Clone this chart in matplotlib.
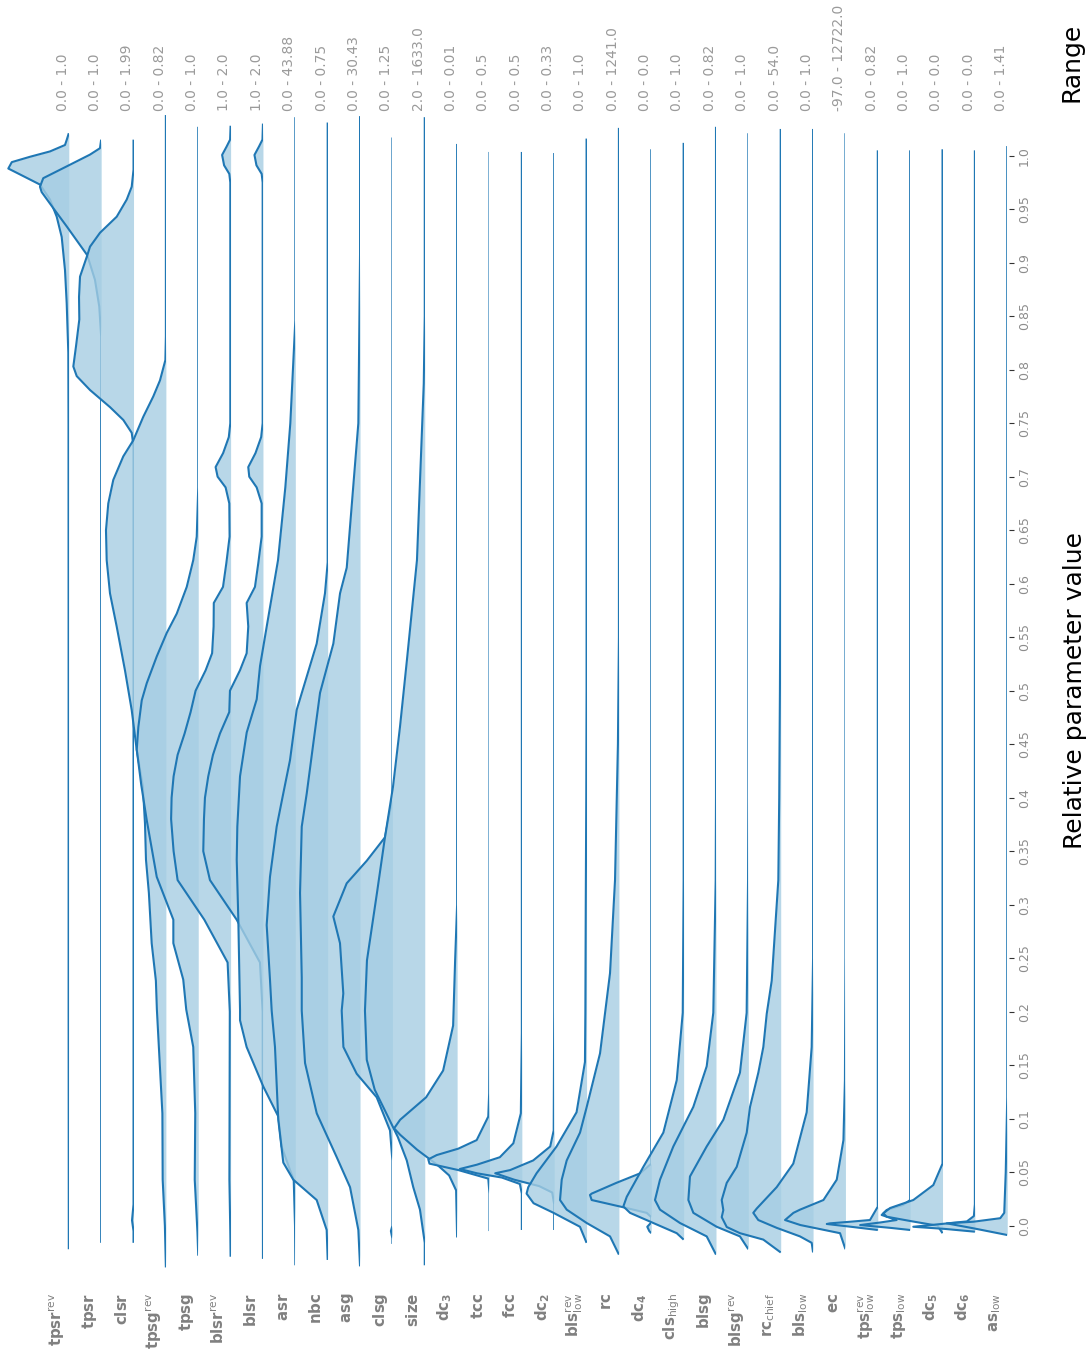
import numpy as np
import matplotlib
matplotlib.use("Agg")
import matplotlib.pyplot as plt
from matplotlib.patches import Rectangle

# ---- row labels and raw parameter ranges (top to bottom in the ridge stack) ----
labels = [
    r"$\mathbf{tpsr}^{\mathrm{rev}}$", r"$\mathbf{tpsr}$", r"$\mathbf{clsr}$",
    r"$\mathbf{tpsg}^{\mathrm{rev}}$", r"$\mathbf{tpsg}$", r"$\mathbf{blsr}^{\mathrm{rev}}$",
    r"$\mathbf{blsr}$", r"$\mathbf{asr}$", r"$\mathbf{nbc}$", r"$\mathbf{asg}$",
    r"$\mathbf{clsg}$", r"$\mathbf{size}$", r"$\mathbf{dc}_\mathbf{3}$", r"$\mathbf{tcc}$",
    r"$\mathbf{fcc}$", r"$\mathbf{dc}_\mathbf{2}$", r"$\mathbf{bls}^{\mathrm{rev}}_{\mathrm{low}}$",
    r"$\mathbf{rc}$", r"$\mathbf{dc}_\mathbf{4}$", r"$\mathbf{cls}_{\mathrm{high}}$",
    r"$\mathbf{blsg}$", r"$\mathbf{blsg}^{\mathrm{rev}}$", r"$\mathbf{rc}_{\mathrm{chief}}$",
    r"$\mathbf{bls}_{\mathrm{low}}$", r"$\mathbf{ec}$", r"$\mathbf{tps}^{\mathrm{rev}}_{\mathrm{low}}$",
    r"$\mathbf{tps}_{\mathrm{low}}$", r"$\mathbf{dc}_\mathbf{5}$", r"$\mathbf{dc}_\mathbf{6}$",
    r"$\mathbf{as}_{\mathrm{low}}$",
]
ranges = [
    "0.0 - 1.0", "0.0 - 1.0", "0.0 - 1.99", "0.0 - 0.82", "0.0 - 1.0", "1.0 - 2.0",
    "1.0 - 2.0", "0.0 - 43.88", "0.0 - 0.75", "0.0 - 30.43", "0.0 - 1.25", "2.0 - 1633.0",
    "0.0 - 0.01", "0.0 - 0.5", "0.0 - 0.5", "0.0 - 0.33", "0.0 - 1.0", "0.0 - 1241.0",
    "0.0 - 0.0", "0.0 - 1.0", "0.0 - 0.82", "0.0 - 1.0", "0.0 - 54.0", "0.0 - 1.0",
    "-97.0 - 12722.0", "0.0 - 0.82", "0.0 - 1.0", "0.0 - 0.0", "0.0 - 0.0", "0.0 - 1.41",
]
tick_values = [0.0, 0.05, 0.1, 0.15, 0.2, 0.25, 0.3, 0.35, 0.4, 0.45, 0.5,
               0.55, 0.6, 0.65, 0.7, 0.75, 0.8, 0.85, 0.9, 0.95, 1.0]
tick_labels = ["0.0", "0.05", "0.1", "0.15", "0.2", "0.25", "0.3", "0.35", "0.4", "0.45", "0.5",
               "0.55", "0.6", "0.65", "0.7", "0.75", "0.8", "0.85", "0.9", "0.95", "1.0"]

# ---- KDE profiles: relative parameter value and density (arbitrary units) ----
tpsr_rev_v = [1.021, 1.015, 1.010, 1.004, 0.999, 0.994, 0.988, 0.984, 0.973, 0.959, 0.943, 0.924, 0.893, 0.862, 0.816, 0.75, 0.5, 0.2, -0.022]
tpsr_rev_d = [0, 2, 3.8, 18.8, 38.8, 57, 60.5, 52, 28.8, 18.8, 12.1, 7.1, 3.8, 2.1, 0.5, 0.3, 0.2, 0.2, 0]

tpsr_v = [1.015, 1.007, 1.001, 0.990, 0.979, 0.971, 0.966, 0.951, 0.934, 0.907, 0.884, 0.859, 0.831, 0.6, 0.3, -0.016]
tpsr_d = [0, 1.2, 11.2, 34.5, 57.9, 61.2, 59.5, 47.9, 34.5, 13.9, 6.2, 1.9, 0, 0, 0, 0]

clsr_v = [1.015, 0.987, 0.971, 0.959, 0.943, 0.928, 0.915, 0.907, 0.887, 0.868, 0.847, 0.822, 0.803, 0.794, 0.781, 0.765, 0.753, 0.741, 0.728, 0.4, 0.02, 0.005, -0.005, -0.016]
clsr_d = [0, 0, 1.8, 6.8, 16.8, 33.5, 43.5, 46.2, 53.5, 54.5, 54.2, 57.5, 60.2, 56.8, 43.5, 23.5, 10.2, 1.8, 0, 0, 0, 1.5, 0, 0]

tpsg_rev_v = [1.038, 0.831, 0.809, 0.790, 0.775, 0.756, 0.734, 0.719, 0.697, 0.675, 0.650, 0.622, 0.591, 0.560, 0.519, 0.482, 0.445, 0.41, 0.376, 0.342, 0.311, 0.264, 0.229, 0.202, 0.105, 0.043, 0.0, -0.039]
tpsg_rev_d = [0, 0, 0.5, 5.9, 12.6, 22.6, 32.6, 42.6, 52.6, 57.6, 59.9, 59.2, 55.9, 49.2, 40.9, 34.2, 29.2, 23, 20.9, 19.9, 17, 14.2, 10, 9, 3.5, 3.2, 1, 0]

tpsg_v = [1.027, 0.69, 0.644, 0.622, 0.597, 0.572, 0.554, 0.532, 0.507, 0.491, 0.466, 0.445, 0.412, 0.379, 0.326, 0.286, 0.264, 0.230, 0.202, 0.167, 0.105, 0.043, -0.006, -0.028]
tpsg_d = [0, 0, 1.5, 5, 11.5, 21.5, 31.5, 41.5, 51.5, 56.5, 59.9, 61.5, 57, 51.5, 41.5, 24.9, 24.9, 15, 12, 5, 3, 3.5, 0.8, 0]

blsr_rev_v = [1.028, 1.015, 1.0085, 1.0007, 0.991, 0.983, 0.975, 0.75, 0.737, 0.722, 0.709, 0.700, 0.690, 0.675, 0.644, 0.619, 0.597, 0.582, 0.560, 0.535, 0.519, 0.500, 0.480, 0.460, 0.440, 0.420, 0.400, 0.380, 0.350, 0.323, 0.286, 0.246, 0.200, 0.043, -0.006, -0.029]
blsr_rev_d = [0, 0.5, 4, 8.5, 6.5, 1.3, 0.3, 0.3, 1.8, 7.5, 15, 13, 5, 1.3, 1, 4.3, 7.6, 16.8, 17, 18.5, 25, 35, 40, 46, 53, 57, 59, 59.5, 57, 53, 26.3, 3, 0.8, 1.2, 0.3, 0]

blsr_v = [1.030, 1.015, 1.0085, 1.0007, 0.991, 0.983, 0.975, 0.75, 0.737, 0.722, 0.709, 0.700, 0.690, 0.675, 0.644, 0.619, 0.597, 0.582, 0.560, 0.535, 0.519, 0.500, 0.480, 0.460, 0.440, 0.420, 0.400, 0.380, 0.350, 0.323, 0.286, 0.246, 0.200, -0.031]
blsr_d = [0, 0.5, 4, 8.5, 6.5, 1.3, 0.3, 0.3, 1.8, 7.5, 14.7, 13.7, 6.3, 1.3, 1.3, 4.7, 8, 16.3, 14.7, 16.3, 23, 33, 33.7, 43, 50, 54.7, 58, 59, 59.7, 53, 26.3, 3, 0.3, 0]

asr_v = [1.036, 0.846, 0.75, 0.69, 0.622, 0.56, 0.523, 0.492, 0.461, 0.42, 0.373, 0.342, 0.286, 0.202, 0.192, 0.167, 0.130, 0.102, 0.074, 0.052, 0.043, 0.0, -0.037]
asr_d = [0, 0, 5, 10, 17.3, 28.6, 35.3, 38.6, 48.6, 55.3, 58, 58.6, 57, 55.3, 55.3, 48.7, 32, 17, 13.7, 5.3, 1.6, 0.3, 0]

nbc_v = [1.031, 0.62, 0.591, 0.544, 0.513, 0.482, 0.435, 0.404, 0.373, 0.326, 0.281, 0.23, 0.201, 0.167, 0.099, 0.059, 0.043, 0.024, -0.004, -0.032]
nbc_d = [0, 0, 2.7, 11, 21, 31, 37.7, 44.4, 51, 57.7, 61, 57.7, 56, 52.7, 49.4, 44.4, 34.4, 11, 1, 0]

asg_v = [1.037, 0.907, 0.75, 0.692, 0.615, 0.591, 0.544, 0.498, 0.451, 0.404, 0.373, 0.311, 0.232, 0.201, 0.152, 0.105, 0.064, 0.036, -0.004, -0.038]
asg_d = [0, 0, 1.7, 6.7, 13.3, 20, 26.7, 40, 46.7, 53.3, 58.3, 60, 58.3, 58.3, 55, 43.3, 23.3, 10, 1.7, 0]

clsg_v = [1.017, 0.4, 0.363, 0.341, 0.320, 0.289, 0.264, 0.217, 0.201, 0.167, 0.142, 0.120, 0.089, 0.061, 0.0, -0.005, -0.012, -0.017]
clsg_d = [0, 0, 7.4, 25.7, 45.7, 59.1, 52.4, 49.1, 50.7, 49, 35.7, 15.7, 2.4, 0, 0, 1.5, 0, 0]

size_v = [1.036, 0.85, 0.787, 0.622, 0.529, 0.466, 0.41, 0.363, 0.311, 0.248, 0.201, 0.155, 0.127, 0.108, 0.083, 0.061, 0.036, 0.015, -0.016, -0.037]
size_d = [0, 0, 1, 7.8, 17.8, 24.8, 31.8, 39.8, 47.8, 57.8, 59.8, 58, 50, 40, 27, 18, 11.5, 4.8, 0, 0]

dc3_v = [1.011, 0.30, 0.248, 0.187, 0.145, 0.120, 0.099, 0.091, 0.085, 0.071, 0.057, 0.047, 0.033, -0.011]
dc3_d = [0, 0, 2, 4, 14, 31, 57, 63, 57, 40, 20, 8, 1, 0]

tcc_v = [1.0035, 0.2, 0.124, 0.102, 0.080, 0.072, 0.066, 0.062, 0.058, 0.052, 0.044, 0.03, -0.005]
tcc_d = [0, 0, 0.3, 1.2, 12.8, 31.2, 52.8, 61.2, 60, 31.2, 1.2, 0, 0]

fcc_v = [1.0035, 0.18, 0.105, 0.077, 0.064, 0.057, 0.053, 0.049, 0.045, 0.039, 0.03, -0.004]
fcc_d = [0, 0, 1, 8.5, 22, 45, 62, 45, 20, 2, 0, 0]

dc2_v = [1.0025, 0.2, 0.089, 0.074, 0.061, 0.052, 0.049, 0.043, 0.037, 0.031, 0.02, -0.004]
dc2_d = [0, 0, 0.5, 4, 21, 44, 59, 40, 15, 2, 0, 0]

bls_rev_low_v = [1.016, 0.5, 0.4, 0.3, 0.2, 0.153, 0.106, 0.074, 0.049, 0.036, 0.030, 0.021, 0.012, -0.001, -0.016]
bls_rev_low_d = [0, 0, 0.3, 0.8, 1.2, 1.6, 10, 30, 50, 58.3, 60, 53, 33, 6.6, 0]

rc_v = [1.026, 0.55, 0.45, 0.323, 0.236, 0.161, 0.111, 0.087, 0.061, 0.043, 0.024, 0.015, 0.0025, -0.010, -0.027]
rc_d = [0, 0, 1, 3.9, 8.9, 18.9, 32.2, 38.9, 52.2, 57.2, 58.9, 52.2, 32.2, 8.9, 0]

dc4_v = [1.006, 0.12, 0.058, 0.049, 0.040, 0.030, 0.0287, 0.024, 0.0165, 0.012, 0.008, 0.003, -0.001, -0.005, -0.007]
dc4_d = [0, 0, 0, 11, 35, 59.6, 61.3, 59.6, 24.6, 4.6, 0, 0, 4, 2, 0]

cls_high_v = [1.012, 0.323, 0.199, 0.136, 0.087, 0.055, 0.027, 0.018, 0.012, 0.0025, -0.007, -0.013]
cls_high_d = [0, 0, 0.9, 6.9, 20.3, 40.3, 56.9, 60.3, 53.6, 30.3, 6.9, 0]

blsg_v = [1.027, 0.4, 0.323, 0.199, 0.149, 0.111, 0.074, 0.043, 0.024, 0.015, 0.0025, -0.010, -0.027]
blsg_d = [0, 0, 0.3, 2.7, 9.3, 22.7, 42.7, 56, 61, 56, 36, 9.3, 0]

blsg_rev_v = [1.021, 0.4, 0.323, 0.199, 0.143, 0.099, 0.074, 0.046, 0.024, 0.012, -0.001, -0.010, -0.022]
blsg_rev_d = [0, 0, 0.3, 1.7, 8.4, 25, 41.7, 58.4, 60, 55, 31.7, 8.4, 0]

rc_chief_v = [1.025, 0.6, 0.5, 0.4, 0.323, 0.276, 0.229, 0.198, 0.167, 0.143, 0.111, 0.087, 0.055, 0.040, 0.024, 0.0146, 0.008, -0.0012, -0.007, -0.013, -0.025]
rc_chief_d = [0, 0.3, 0.8, 1.5, 2.4, 5.7, 9, 14, 17.4, 22.4, 30.7, 34, 44, 54, 59, 57.4, 59, 54, 40.7, 17.4, 0]

bls_low_v = [1.025, 0.25, 0.167, 0.106, 0.058, 0.036, 0.016, 0.012, 0.0053, -0.002, -0.010, -0.016, -0.025]
bls_low_d = [0, 0, 1.4, 6.4, 19.8, 36.4, 56.4, 59.8, 54.8, 36.4, 13.1, 1.4, 0]

ec_v = [1.021, 0.25, 0.136, 0.080, 0.043, 0.024, 0.015, 0.012, 0.0053, 0.0006, -0.007, -0.022]
ec_d = [0, 0, 0.5, 2, 8.7, 22, 45.4, 52, 60.4, 45, 5.4, 0]

tps_rev_low_v = [1.005, 0.03, 0.0178, 0.0053, 0.0037, 0.0022, 0.0016, -0.0009, -0.004]
tps_rev_low_d = [0, 0, 0, 7.8, 27.8, 47.8, 51, 27.8, 0]

tps_low_v = [1.005, 0.03, 0.024, 0.0194, 0.0147, 0.01, 0.0053, 0.003, 0.0006, -0.002, -0.004]
tps_low_d = [0, 0, 0, 6.9, 23.5, 28.5, 13.5, 30, 50, 20, 0]

dc5_v = [1.006, 0.07, 0.058, 0.038, 0.024, 0.0165, 0.0115, 0.0084, 0.004, 0.0, -0.007]
dc5_d = [0, 0, 0, 9.2, 29.2, 52.5, 59.2, 55.8, 30, 5, 0]

dc6_v = [1.005, 0.02, 0.009, 0.004, 0.001, -0.001, -0.003, -0.0056]
dc6_d = [0, 0, 1, 8, 40, 61.6, 30, 0]

as_low_v = [1.009, 0.12, 0.05, 0.012, 0.007, 0.0037, 0.0022, -0.0024, -0.0087]
as_low_d = [0, 0, 1.5, 3, 7, 34, 60.5, 34, 0]

profiles = [
    (tpsr_rev_v, tpsr_rev_d), (tpsr_v, tpsr_d), (clsr_v, clsr_d),
    (tpsg_rev_v, tpsg_rev_d), (tpsg_v, tpsg_d), (blsr_rev_v, blsr_rev_d),
    (blsr_v, blsr_d), (asr_v, asr_d), (nbc_v, nbc_d), (asg_v, asg_d),
    (clsg_v, clsg_d), (size_v, size_d), (dc3_v, dc3_d), (tcc_v, tcc_d),
    (fcc_v, fcc_d), (dc2_v, dc2_d), (bls_rev_low_v, bls_rev_low_d), (rc_v, rc_d),
    (dc4_v, dc4_d), (cls_high_v, cls_high_d), (blsg_v, blsg_d), (blsg_rev_v, blsg_rev_d),
    (rc_chief_v, rc_chief_d), (bls_low_v, bls_low_d), (ec_v, ec_d),
    (tps_rev_low_v, tps_rev_low_d), (tps_low_v, tps_low_d), (dc5_v, dc5_d),
    (dc6_v, dc6_d), (as_low_v, as_low_d),
]

# ---- styling ----
LINE_COLOR = "#1f77b4"
FILL_COLOR = "#a6cee3"
LABEL_GRAY = "#808080"
RANGE_GRAY = "#9a9a9a"
DENS_TO_ROW = 1 / 32.36   # density units -> spacing between ridges

fig = plt.figure(figsize=(10.91, 13.52), dpi=100)
ax = fig.add_axes([0.0, 0.022189, 1009 / 1091, 0.957619])
ax.set_xlim(-1.1261, 30.0544)
ax.set_ylim(-0.09, 1.12)

for i, ((vals, dens), lab, rng) in enumerate(zip(profiles, labels, ranges), start=1):
    v = np.asarray(vals, dtype=float)
    x = i - np.asarray(dens, dtype=float) * DENS_TO_ROW
    clip = Rectangle((i - 40, -1), 40, 3, transform=ax.transData)
    poly = ax.fill_betweenx(v, x, i, color=FILL_COLOR, alpha=0.8, lw=0, zorder=10 + 2 * i)
    poly.set_clip_path(clip)
    ln, = ax.plot(x, v, color=LINE_COLOR, lw=1.5, zorder=11 + 2 * i,
                  solid_joinstyle="round", solid_capstyle="butt")
    ln.set_clip_path(clip)
    ax.text(i - 0.37, -0.0628, lab, rotation=90, ha="center", va="top",
            fontsize=10.8, color=LABEL_GRAY)
    ax.text(i - 0.19, 1.042, rng, rotation=90, ha="center", va="bottom",
            fontsize=10, color=RANGE_GRAY)

# value axis drawn along the right edge
for s in ax.spines.values():
    s.set_visible(False)
ax.set_xticks([])
ax.yaxis.tick_right()
ax.set_yticks(tick_values)
ax.set_yticklabels(tick_labels)
ax.tick_params(axis="y", direction="out", length=3.6, width=0.8, color="#333333",
               labelcolor="#8c8c8c", labelsize=9, labelrotation=90, pad=3)
for t in ax.get_yticklabels():
    t.set_verticalalignment("center")

ax.text(32.09, 0.5, "Relative parameter value", rotation=90, ha="center", va="center",
        fontsize=18, color="black")
ax.text(32.0, 1.0876, "Range", rotation=90, ha="center", va="center",
        fontsize=18, color="black")

fig.savefig("out.png", dpi=100)
